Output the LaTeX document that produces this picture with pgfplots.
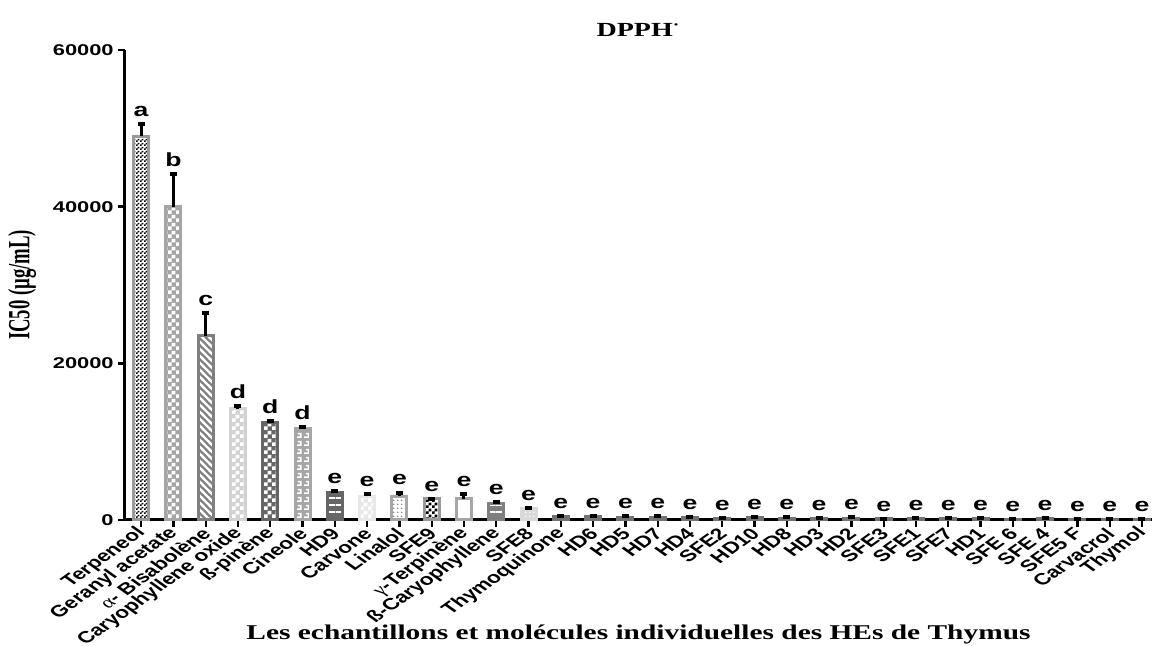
\documentclass[border=0pt]{standalone}
\usepackage{fontspec}
\setmainfont{Liberation Sans}[FakeStretch=1.4]
\newfontfamily\plainsans{Liberation Sans}
\newfontfamily\stserif{Liberation Serif}[FakeStretch=1.4]
\newfontfamily\plainserif{Liberation Serif}
\usepackage{graphicx}
\usepackage{pgfplots}
\pgfplotsset{compat=1.18}
\usetikzlibrary{patterns}

\pgfdeclarepatternformonly{fchk}{\pgfpointorigin}{\pgfpoint{2pt}{2pt}}{\pgfpoint{2pt}{2pt}}{%
  \pgfpathrectangle{\pgfpointorigin}{\pgfpoint{1pt}{1pt}}%
  \pgfpathrectangle{\pgfpoint{1pt}{1pt}}{\pgfpoint{1pt}{1pt}}%
  \pgfusepath{fill}}
\pgfdeclarepatternformonly{schk}{\pgfpointorigin}{\pgfpoint{3pt}{3pt}}{\pgfpoint{3pt}{3pt}}{%
  \pgfpathrectangle{\pgfpointorigin}{\pgfpoint{1.5pt}{1.5pt}}%
  \pgfpathrectangle{\pgfpoint{1.5pt}{1.5pt}}{\pgfpoint{1.5pt}{1.5pt}}%
  \pgfusepath{fill}}
\pgfdeclarepatternformonly{mchk}{\pgfpointorigin}{\pgfpoint{4pt}{4pt}}{\pgfpoint{4pt}{4pt}}{%
  \pgfpathrectangle{\pgfpointorigin}{\pgfpoint{2pt}{2pt}}%
  \pgfpathrectangle{\pgfpoint{2pt}{2pt}}{\pgfpoint{2pt}{2pt}}%
  \pgfusepath{fill}}
\pgfdeclarepatternformonly{hln}{\pgfpointorigin}{\pgfpoint{4pt}{3.5pt}}{\pgfpoint{4pt}{3.5pt}}{%
  \pgfpathrectangle{\pgfpointorigin}{\pgfpoint{4pt}{1.1pt}}%
  \pgfusepath{fill}}
\pgfdeclarepatternformonly{nwl}{\pgfpoint{-1pt}{-1pt}}{\pgfpoint{4.5pt}{4.5pt}}{\pgfpoint{3.5pt}{3.5pt}}{%
  \pgfsetlinewidth{1.1pt}%
  \pgfpathmoveto{\pgfpoint{-1pt}{4.5pt}}\pgfpathlineto{\pgfpoint{4.5pt}{-1pt}}%
  \pgfusepath{stroke}}
\pgfdeclarepatternformonly{dts}{\pgfpointorigin}{\pgfpoint{2pt}{2pt}}{\pgfpoint{2pt}{2pt}}{%
  \pgfpathcircle{\pgfpoint{1pt}{1pt}}{0.5pt}%
  \pgfusepath{fill}}
\pgfdeclarepatternformonly{mnd}{\pgfpointorigin}{\pgfpoint{4pt}{4pt}}{\pgfpoint{4pt}{4pt}}{%
  \pgfpathrectangle{\pgfpointorigin}{\pgfpoint{3pt}{0.9pt}}%
  \pgfpathrectangle{\pgfpoint{2.1pt}{0pt}}{\pgfpoint{0.9pt}{2.9pt}}%
  \pgfpathrectangle{\pgfpoint{1pt}{2pt}}{\pgfpoint{2pt}{0.9pt}}%
  \pgfusepath{fill}}

\pgfplotstableread{
x y l
0 50500 a
1 44200 b
2 26400 c
3 14500 d
4 12650 d
5 11900 d
6 3650 e
7 3350 e
8 3500 e
9 2700 e
10 3300 e
11 2350 e
12 1500 e
13 550 e
14 500 e
15 480 e
16 450 e
17 420 e
18 250 e
19 400 e
20 350 e
21 280 e
22 350 e
23 150 e
24 260 e
25 220 e
26 200 e
27 120 e
28 200 e
29 100 e
30 150 e
31 80 e
}\letters

\begin{document}
\begin{tikzpicture}
\begin{axis}[
  scale only axis,
  width=513.5pt, height=235pt,
  xmin=-0.5, xmax=31.31,
  ymin=0, ymax=60000,
  axis x line*=bottom, axis y line*=left,
  axis line style={-, line width=1.5pt},
  clip=false,
  ytick={0,20000,40000,60000},
  scaled y ticks=false,
  /pgf/number format/1000 sep={},
  /pgf/number format/assume math mode=true,
  xtick={0,...,31},
  xticklabels={Terpeneol, Geranyl acetate, {{\plainserif\mdseries α}- Bisabolène}, Caryophyllene oxide, ß-pinène, Cineole, HD9, Carvone, Linalol, SFE9, {{\plainserif\mdseries γ}-Terpinène}, ß-Caryophyllene, SFE8, Thymoquinone, HD6, HD5, HD7, HD4, SFE2, HD10, HD8, HD3, HD2, SFE3, SFE1, SFE7, HD1, SFE 6, SFE 4, SFE5 F, Carvacrol, Thymol},
  tick align=outside,
  major tick length=3.5pt,
  tick style={line width=1.2pt, black},
  yticklabel style={font=\bfseries\fontsize{7.8}{9}\selectfont, inner sep=1pt, xshift=-1pt},
  xticklabel style={font=\plainsans\bfseries\fontsize{8.1}{9}\selectfont, anchor=east, inner sep=1pt, cm={0.99,0.707,-0.99,0.707,(0,0)}, yshift=-1.5pt},
  title={DPPH\textsuperscript{·}},
  title style={font=\stserif\bfseries\fontsize{10}{12}\selectfont, at={(axis description cs:0.5,1)}, anchor=center, yshift=4pt},
  xlabel={Les echantillons et molécules individuelles des HEs de Thymus},
  xlabel style={font=\stserif\bfseries\fontsize{10.5}{12}\selectfont, at={(axis description cs:0.5,0)}, anchor=center, yshift=-57pt},
  ylabel={\scalebox{0.85}[1.4]{IC50 (µg/mL)}},
  ylabel style={font=\plainserif\bfseries\fontsize{11}{13}\selectfont, at={(axis description cs:0,0.5)}, anchor=center, yshift=51.5pt},
  every axis plot/.append style={bar shift=0pt},
  error bars/y dir=plus, error bars/y explicit,
  error bars/error bar style={line width=1.5pt, black, solid},
  error bars/error mark options={line width=2pt, mark size=1.75pt, black, rotate=90},
]
\pgfplotsset{bb/.style={ybar, bar width=7.5pt, line width=1.5pt}}
\addplot[bb, draw=gray!80, preaction={fill=white}, pattern=fchk, pattern color=black] coordinates {(0,49000) +- (0,1500)};
\addplot[bb, draw=gray!70, preaction={fill=gray!70}, pattern=mchk, pattern color=white] coordinates {(1,40000) +- (0,4200)};
\addplot[bb, draw=gray, preaction={fill=gray}, pattern=nwl, pattern color=white] coordinates {(2,23500) +- (0,2900)};
\addplot[bb, draw=gray!35, preaction={fill=gray!35}, pattern=mchk, pattern color=white] coordinates {(3,14200) +- (0,300)};
\addplot[bb, draw=black!60, preaction={fill=black!60}, pattern=mchk, pattern color=white] coordinates {(4,12400) +- (0,250)};
\addplot[bb, draw=gray!70, preaction={fill=gray!70}, pattern=mnd, pattern color=white] coordinates {(5,11700) +- (0,200)};
\addplot[bb, draw=black!60, preaction={fill=black!60}, pattern=hln, pattern color=white] coordinates {(6,3500) +- (0,150)};
\addplot[bb, draw=gray!18, preaction={fill=gray!18}, pattern=mchk, pattern color=white] coordinates {(7,3000) +- (0,350)};
\addplot[bb, draw=gray!70, preaction={fill=white}, pattern=dts, pattern color=gray] coordinates {(8,3000) +- (0,500)};
\addplot[bb, draw=gray!80, preaction={fill=white}, pattern=schk, pattern color=black] coordinates {(9,2700) +- (0,0)};
\addplot[bb, draw=gray!70, fill=white] coordinates {(10,2700) +- (0,600)};
\addplot[bb, draw=gray, preaction={fill=gray}, pattern=hln, pattern color=white] coordinates {(11,2100) +- (0,250)};
\addplot[bb, draw=gray!30, preaction={fill=gray!30}, pattern=dts, pattern color=white] coordinates {(12,1500) +- (0,0)};
\addplot[bb, draw=black!55, fill=black!55] coordinates {
(13,450) +- (0,100)
(14,400) +- (0,100)
(15,380) +- (0,100)
(16,300) +- (0,150)
(17,300) +- (0,120)
(18,250) +- (0,0)
(19,300) +- (0,100)
(20,250) +- (0,100)
(21,200) +- (0,80)
(22,250) +- (0,100)
(23,150) +- (0,0)
(24,180) +- (0,80)
(25,160) +- (0,60)
(26,150) +- (0,50)
(27,120) +- (0,0)
(28,150) +- (0,50)
(29,100) +- (0,0)
(30,100) +- (0,50)
(31,80) +- (0,0)
};
\addplot[only marks, mark=none, error bars/y explicit=false, nodes near coords, point meta=explicit symbolic,
  nodes near coords style={anchor=south, inner sep=0pt, yshift=3.5pt, font=\bfseries\fontsize{9.5}{10}\selectfont, black}]
  table[x=x, y=y, meta=l] {\letters};
\end{axis}
\pgfresetboundingbox
\path ([shift={(-62.5pt,-63pt)}]current axis.south west) rectangle ([shift={(513.5pt,260pt)}]current axis.south west);
\end{tikzpicture}
\end{document}
